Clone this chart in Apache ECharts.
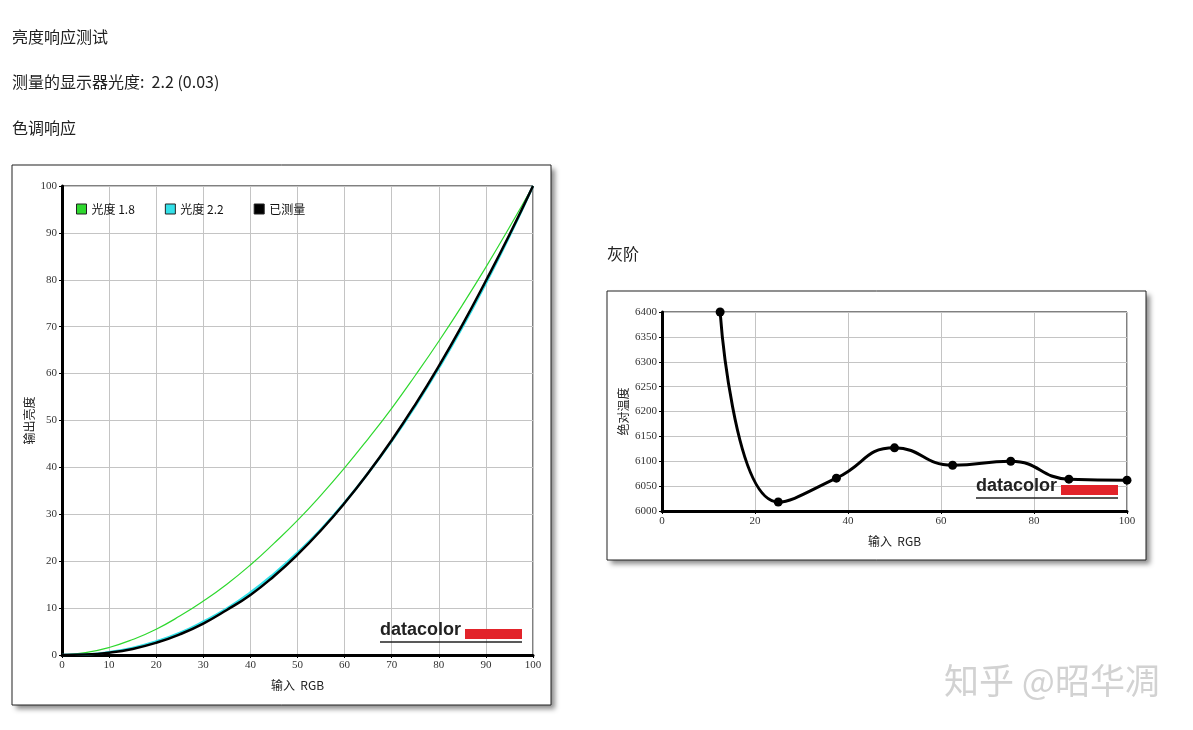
<!DOCTYPE html>
<html>
<head>
<meta charset="utf-8">
<script src="https://cdn.jsdelivr.net/npm/echarts@6/dist/echarts.min.js"></script>
<style>
  html, body { margin: 0; padding: 0; background: #fff; }
  #main { width: 1193px; height: 730px; }
</style>
</head>
<body>
<div id="main"></div>
<script>
// 色调响应: 输入 RGB (0..100 step 5)
var inputRGB = [0, 5, 10, 15, 20, 25, 30, 35, 40, 45, 50, 55, 60, 65, 70, 75, 80, 85, 90, 95, 100]
var gamma18 = [0, 0.5, 1.6, 3.3, 5.5, 8.3, 11.5, 15.1, 19.2, 23.8, 28.7, 34.1, 39.9, 46.1, 52.6, 59.6, 66.9, 74.6, 82.7, 91.2, 100]
var gamma22 = [0, 0.1, 0.6, 1.5, 2.9, 4.7, 7.1, 9.9, 13.3, 17.3, 21.8, 26.8, 32.5, 38.8, 45.6, 53.1, 61.2, 69.9, 79.3, 89.3, 100]
var measured = [0, 0.1, 0.5, 1.3, 2.6, 4.4, 6.7, 9.6, 12.8, 16.8, 21.4, 26.6, 32.4, 38.8, 45.8, 53.4, 61.6, 70.4, 79.8, 89.6, 100]

// 灰阶: 输入 RGB -> 绝对温度
var grayRGB = [12.5, 25, 37.5, 50, 62.5, 75, 87.5, 100]
var grayTemp = [6400, 6018, 6066, 6127, 6092, 6100, 6064, 6062]

var tickFont = 'Liberation Serif'
var cjkFont = 'Noto Sans CJK SC'

function pairs(xs, ys) {
  return xs.map(function(x, i) { return [x, ys[i]] })
}

function logo(x, y) {
  return [
    { type: 'text', left: x, top: y, z: 10,
      style: { text: 'datacolor', fill: '#222', font: 'bold 18px "Liberation Sans"' } },
    { type: 'rect', shape: { x: x + 85, y: y + 8, width: 57, height: 10 }, z: 10,
      style: { fill: '#e2232a' } },
    { type: 'line', shape: { x1: x, y1: y + 21, x2: x + 142, y2: y + 21 }, z: 10,
      style: { stroke: '#222', lineWidth: 1.5 } }
  ]
}

// white panel with drop shadow, border drawn separately so the shadow stays outside
function panel(x, y, w, h) {
  return [
    { type: 'rect', z: -11, shape: { x: x, y: y, width: w, height: h },
      style: { fill: '#fff', shadowBlur: 5, shadowOffsetX: 4, shadowOffsetY: 4, shadowColor: 'rgba(0,0,0,0.45)' } },
    { type: 'rect', z: -10, shape: { x: x, y: y, width: w, height: h },
      style: { fill: '#fff', stroke: '#222', lineWidth: 1 } }
  ]
}

var chart = echarts.init(document.getElementById('main'))

var axisCommon = {
  type: 'value',
  nameLocation: 'middle',
  nameTextStyle: { fontFamily: cjkFont, fontSize: 12, color: '#222' },
  axisLine: { show: true, lineStyle: { color: '#000', width: 3 } },
  axisTick: { show: true, length: 3, lineStyle: { color: '#000' } },
  axisLabel: { fontFamily: tickFont, fontSize: 11, color: '#333', margin: 5,
    formatter: function(v) { return String(v) } },
  splitLine: { show: true, lineStyle: { color: '#c4c4c4', width: 1 } }
}

var headFont = '16px "Noto Sans CJK SC"'

chart.setOption({
  animation: false,
  graphic: [
    { type: 'text', left: 12, top: 29, style: { text: '亮度响应测试', fill: '#222', font: headFont } },
    { type: 'text', left: 12, top: 74, style: { text: '测量的显示器光度:  2.2 (0.03)', fill: '#222', font: headFont } },
    { type: 'text', left: 12, top: 120, style: { text: '色调响应', fill: '#222', font: headFont } },
    { type: 'text', left: 607, top: 246, style: { text: '灰阶', fill: '#222', font: headFont } },
    { type: 'text', left: 944, top: 663, z: 20,
      style: { text: '知乎 @昭华凋', fill: '#d2d2d2', font: '35px "Noto Sans CJK SC"',
        textShadowColor: 'rgba(0,0,0,0.18)', textShadowOffsetX: -1, textShadowOffsetY: 1, textShadowBlur: 0 } }
  ].concat(panel(12, 165, 539, 540)).concat(panel(607, 291, 539, 269))
   .concat(logo(380, 621)).concat(logo(976, 477)),
  legend: {
    left: 71, top: 198,
    itemWidth: 10, itemHeight: 10, itemGap: 30,
    icon: 'rect',
    textStyle: { fontFamily: cjkFont, fontSize: 12, color: '#111' },
    data: [
      { name: '光度 1.8', itemStyle: { color: '#2ed82e', borderColor: '#222', borderWidth: 1 } },
      { name: '光度 2.2', itemStyle: { color: '#33e0e8', borderColor: '#222', borderWidth: 1 } },
      { name: '已测量', itemStyle: { color: '#000', borderColor: '#222', borderWidth: 1 } }
    ]
  },
  grid: [
    { left: 62, top: 186, width: 471, height: 469, show: true, borderColor: '#000', borderWidth: 1, backgroundColor: 'transparent' },
    { left: 662, top: 312, width: 465, height: 199, show: true, borderColor: '#000', borderWidth: 1, backgroundColor: 'transparent' }
  ],
  xAxis: [
    Object.assign({}, axisCommon, { gridIndex: 0, min: 0, max: 100, interval: 10, name: '输入  RGB', nameGap: 24 }),
    Object.assign({}, axisCommon, { gridIndex: 1, min: 0, max: 100, interval: 20, name: '输入  RGB', nameGap: 24 })
  ],
  yAxis: [
    Object.assign({}, axisCommon, { gridIndex: 0, min: 0, max: 100, interval: 10, name: '输出亮度', nameGap: 27 }),
    Object.assign({}, axisCommon, { gridIndex: 1, min: 6000, max: 6400, interval: 50, name: '绝对温度', nameGap: 33 })
  ],
  series: [
    { name: '光度 1.8', type: 'line', xAxisIndex: 0, yAxisIndex: 0, smooth: true, symbol: 'none',
      lineStyle: { color: '#2ed82e', width: 1.2 }, itemStyle: { color: '#2ed82e' },
      data: pairs(inputRGB, gamma18) },
    { name: '光度 2.2', type: 'line', xAxisIndex: 0, yAxisIndex: 0, smooth: true, symbol: 'none',
      lineStyle: { color: '#33e0e8', width: 2.5 }, itemStyle: { color: '#33e0e8' },
      data: pairs(inputRGB, gamma22) },
    { name: '已测量', type: 'line', xAxisIndex: 0, yAxisIndex: 0, smooth: true, symbol: 'none',
      lineStyle: { color: '#000', width: 2.5 }, itemStyle: { color: '#000' },
      data: pairs(inputRGB, measured) },
    { name: '灰阶', type: 'line', xAxisIndex: 1, yAxisIndex: 1, smooth: 0.5, clip: true,
      symbol: 'circle', symbolSize: 9,
      lineStyle: { color: '#000', width: 3 }, itemStyle: { color: '#000' },
      data: pairs(grayRGB, grayTemp) }
  ]
})
</script>
</body>
</html>
